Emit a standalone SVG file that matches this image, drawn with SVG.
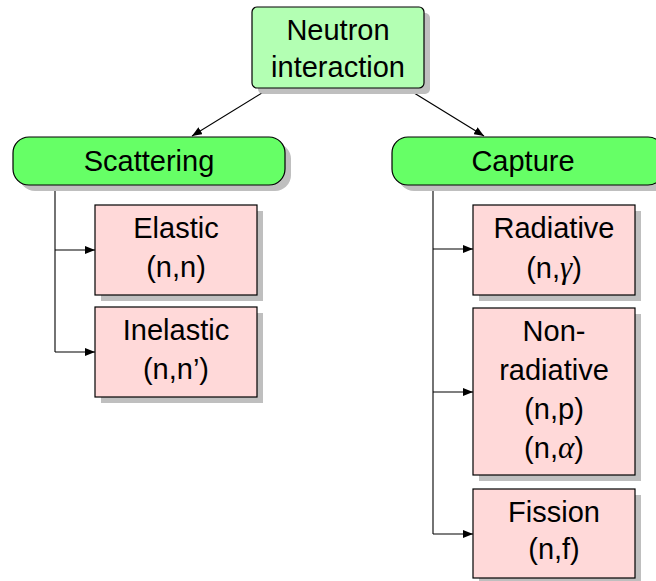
<svg xmlns="http://www.w3.org/2000/svg" width="656" height="581" viewBox="0 0 656 581">
<style>
text{font-family:"Liberation Sans",Arial,sans-serif;font-size:29px;fill:#000;text-anchor:middle}
.sh{fill:#bfbfbf}
.top{fill:#b3ffb3;stroke:#000;stroke-width:1.2}
.mid{fill:#66ff66;stroke:#000;stroke-width:1.2}
.leaf{fill:#ffd9d9;stroke:#000;stroke-width:1.2}
.c{fill:none;stroke:#000;stroke-width:1.1}
.g{font-family:"Liberation Serif","DejaVu Serif",serif;font-style:italic;font-size:31px}
</style>
<defs>
<marker id="ah" markerWidth="10" markerHeight="8" refX="10" refY="4" orient="auto" markerUnits="userSpaceOnUse">
<path d="M0,0 L10,4 L0,8 Z" fill="#000"/>
</marker>
</defs>
<g id="connectors">
<line class="c" x1="270" y1="88" x2="192" y2="136" marker-end="url(#ah)"/>
<line class="c" x1="406" y1="88" x2="484" y2="136" marker-end="url(#ah)"/>
<path class="c" d="M55,185 V352"/>
<line class="c" x1="55" y1="250" x2="95" y2="250" marker-end="url(#ah)"/>
<line class="c" x1="55" y1="352" x2="95" y2="352" marker-end="url(#ah)"/>
<path class="c" d="M433,185 V534"/>
<line class="c" x1="433" y1="249" x2="473" y2="249" marker-end="url(#ah)"/>
<line class="c" x1="433" y1="392" x2="473" y2="392" marker-end="url(#ah)"/>
<line class="c" x1="433" y1="534" x2="473" y2="534" marker-end="url(#ah)"/>
</g>
<g id="neutron">
<rect class="sh" x="258" y="13" width="172" height="81" rx="5"/>
<rect class="top" x="252" y="7" width="172" height="81" rx="5"/>
<text x="338" y="40">Neutron</text>
<text x="338" y="77">interaction</text>
</g>
<g id="scattering">
<rect class="sh" x="19" y="143" width="272" height="48" rx="16"/>
<rect class="mid" x="13" y="137" width="272" height="48" rx="16"/>
<text x="149" y="171">Scattering</text>
</g>
<g id="capture">
<rect class="sh" x="398" y="143" width="272" height="48" rx="16"/>
<rect class="mid" x="392" y="137" width="272" height="48" rx="16"/>
<text x="523" y="171">Capture</text>
</g>
<g id="elastic">
<rect class="sh" x="101" y="211" width="162" height="90"/>
<rect class="leaf" x="95" y="205" width="162" height="90"/>
<text x="176" y="238">Elastic</text>
<text x="176" y="277">(n,n)</text>
</g>
<g id="inelastic">
<rect class="sh" x="101" y="313" width="162" height="90"/>
<rect class="leaf" x="95" y="307" width="162" height="90"/>
<text x="176" y="340">Inelastic</text>
<text x="176" y="379">(n,n’)</text>
</g>
<g id="radiative">
<rect class="sh" x="479" y="211" width="162" height="90"/>
<rect class="leaf" x="473" y="205" width="162" height="90"/>
<text x="554" y="238">Radiative</text>
<text x="554" y="278">(n,<tspan class="g">γ</tspan>)</text>
</g>
<g id="nonradiative">
<rect class="sh" x="479" y="314" width="162" height="167"/>
<rect class="leaf" x="473" y="308" width="162" height="167"/>
<text x="554" y="341">Non-</text>
<text x="554" y="380">radiative</text>
<text x="554" y="419">(n,p)</text>
<text x="554" y="458">(n,<tspan class="g">α</tspan>)</text>
</g>
<g id="fission">
<rect class="sh" x="479" y="495" width="162" height="89"/>
<rect class="leaf" x="473" y="489" width="162" height="89"/>
<text x="554" y="522">Fission</text>
<text x="554" y="559">(n,f)</text>
</g>
</svg>
